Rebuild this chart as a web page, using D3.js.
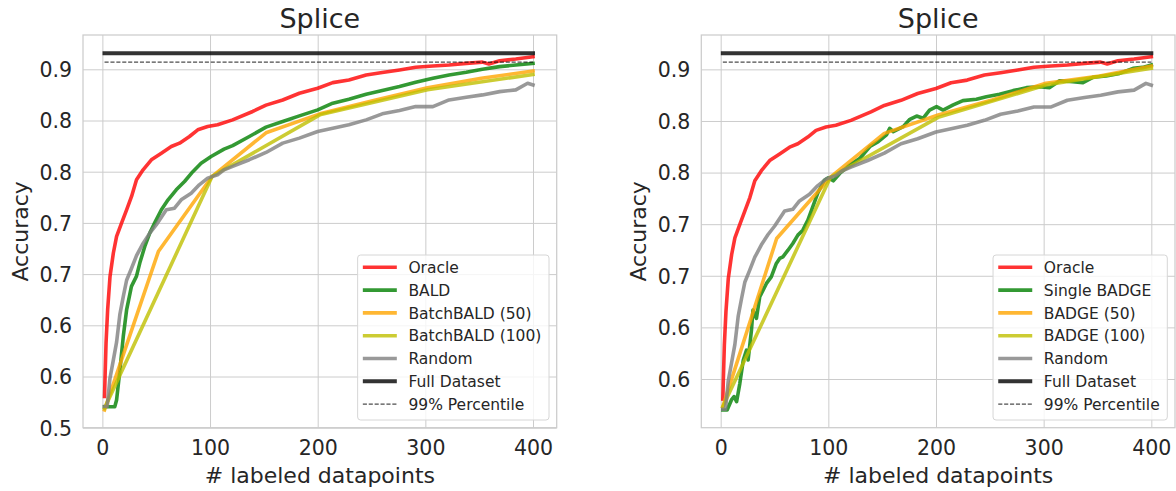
<!DOCTYPE html>
<html><head><meta charset="utf-8">
<script src="https://cdn.jsdelivr.net/npm/d3@7"></script>
<style>
body{margin:0;background:#fff;}
svg{display:block;font-family:"DejaVu Sans",sans-serif;}
</style></head><body>
<svg id="chart" width="1176" height="491"></svg>
<script>
// ---------- tick values & labels ----------
const xTicks = [0, 100, 200, 300, 400];
const yTicks = [0.5, 0.55, 0.6, 0.65, 0.7, 0.75, 0.8, 0.85];
const yTickLabels = ["0.5", "0.6", "0.6", "0.7", "0.7", "0.8", "0.8", "0.9"];
const panelTitles = ["Splice", "Splice"];
const xLabel = "# labeled datapoints";
const yLabel = "Accuracy";

// ---------- shared series ----------
const fullDataset = 0.8656;
const percentile99 = 0.857;
const refX = [2, 400];

const oracleX = [2, 2.5, 3.4, 4.9, 7.1, 10.2, 13.2, 17.8, 22.5, 27.1, 31.7, 37.8, 45.5, 54.8, 64, 71.7, 80.9, 88.6, 97.8, 107, 121, 139.6, 152, 167.5, 183, 200, 214, 229, 245, 260, 276, 291, 307, 322, 338, 353, 359, 369, 384, 400];
const oracleY = [0.5305, 0.55, 0.5826, 0.6152, 0.6477, 0.6706, 0.6868, 0.6999, 0.7128, 0.7258, 0.7421, 0.7518, 0.7616, 0.7681, 0.7746, 0.7779, 0.7844, 0.7909, 0.7941, 0.7958, 0.8006, 0.8088, 0.815, 0.820, 0.8266, 0.8315, 0.837, 0.8396, 0.8445, 0.8468, 0.8494, 0.852, 0.8532, 0.8542, 0.8558, 0.857, 0.8552, 0.8584, 0.860, 0.8623];

const randomX = [2, 4.5, 7, 10, 13.2, 16.3, 19.4, 22.5, 27, 31.7, 37.8, 44, 50, 59.4, 67, 73.2, 82.5, 90, 97.8, 107, 113, 121, 136.5, 152, 167.5, 183, 200, 214, 229, 245, 260, 276, 291, 307, 322, 338, 353, 369, 384, 395, 400];
const randomY = [0.5207, 0.5207, 0.548, 0.565, 0.5835, 0.611, 0.628, 0.644, 0.6555, 0.668, 0.680, 0.690, 0.698, 0.7128, 0.7144, 0.7225, 0.729, 0.7372, 0.7437, 0.747, 0.7518, 0.7552, 0.7617, 0.7688, 0.7779, 0.7828, 0.7893, 0.7925, 0.7958, 0.8006, 0.8065, 0.8097, 0.8136, 0.8136, 0.8201, 0.8227, 0.825, 0.8282, 0.8299, 0.8364, 0.8347];

// ---------- left panel series ----------
const baldX = [2, 11.5, 13.2, 16.3, 19.4, 22.5, 27, 31.7, 34.8, 39.4, 44, 48.6, 54.8, 61, 68.6, 76.3, 84, 91.7, 101, 113, 121, 136.5, 152, 167.5, 183, 200, 214, 229, 245, 260, 276, 291, 307, 322, 338, 353, 369, 384, 400];
const baldY = [0.5205, 0.5205, 0.527, 0.5565, 0.589, 0.615, 0.638, 0.648, 0.661, 0.677, 0.690, 0.700, 0.7128, 0.7225, 0.7323, 0.7404, 0.750, 0.7583, 0.7648, 0.772, 0.7755, 0.7844, 0.7935, 0.799, 0.8045, 0.8104, 0.8169, 0.8208, 0.8256, 0.8292, 0.8331, 0.8373, 0.8412, 0.8445, 0.8471, 0.85, 0.8526, 0.8542, 0.8558];

const batchBald50X = [2, 52, 102, 152, 202, 252, 302, 352, 400];
const batchBald50Y = [0.5174, 0.672, 0.7455, 0.788, 0.8065, 0.8195, 0.832, 0.8412, 0.8484];

const batchBald100X = [2, 102, 202, 302, 400];
const batchBald100Y = [0.519, 0.7455, 0.8055, 0.830, 0.845];

// ---------- right panel series ----------
const singleBadgeX = [2, 6, 10, 12.4, 14.8, 17.8, 21, 24, 25.5, 28.6, 30, 33.2, 36.3, 39.4, 42.5, 47, 51.7, 54.8, 57.8, 62.5, 67, 71.7, 76.3, 81, 85.5, 90, 96.3, 100, 104.6, 110.8, 120, 129.4, 138.6, 146.4, 154, 157, 160.3, 169.5, 175.7, 182, 188, 194, 200.5, 206.6, 216, 225, 237.5, 246.8, 259, 271.6, 284, 296, 305.6, 314.8, 327, 336.5, 345.7, 358, 370.5, 383, 392, 400];
const singleBadgeY = [0.52, 0.52, 0.5297, 0.533, 0.528, 0.5458, 0.5684, 0.578, 0.5684, 0.5974, 0.6168, 0.6087, 0.6297, 0.636, 0.6426, 0.649, 0.662, 0.6668, 0.6684, 0.6748, 0.6813, 0.6894, 0.6942, 0.7039, 0.7168, 0.7297, 0.7426, 0.745, 0.742, 0.7494, 0.7574, 0.7639, 0.7752, 0.78, 0.7865, 0.7929, 0.7897, 0.7945, 0.8016, 0.8048, 0.8026, 0.8106, 0.8139, 0.8106, 0.8155, 0.8197, 0.821, 0.8235, 0.8258, 0.8294, 0.8323, 0.8332, 0.8323, 0.839, 0.8381, 0.8371, 0.8423, 0.8435, 0.8461, 0.851, 0.8519, 0.8542];

const badge50X = [2, 52, 102, 152, 202, 252, 302, 352, 400];
const badge50Y = [0.5232, 0.6861, 0.7455, 0.788, 0.8058, 0.8203, 0.8365, 0.8435, 0.8532];

const badge100X = [2, 102, 202, 302, 400];
const badge100Y = [0.5232, 0.7455, 0.8035, 0.8348, 0.851];

const leftLabels = ["Oracle", "BALD", "BatchBALD (50)", "BatchBALD (100)", "Random", "Full Dataset", "99% Percentile"];
const rightLabels = ["Oracle", "Single BADGE", "BADGE (50)", "BADGE (100)", "Random", "Full Dataset", "99% Percentile"];
const seriesColors = ["#ff0000", "#008000", "#ffa500", "#bfbf00", "#808080", "#000000", "#000000"];

// ---------- layout ----------
const W = 1176, H = 491;
const axTop = 35, axBottom = 427.7;
const xDomain = [-18, 422];
const zip = (xs, ys) => xs.map((v, i) => [v, ys[i]]);
const svg = d3.select("#chart");
const ink = "#262626";

function drawPanel(p) {
  const x = d3.scaleLinear().domain(xDomain).range([p.left, p.right]);
  const y = d3.scaleLinear().domain(p.yDomain).range([axBottom, axTop]);
  const g = svg.append("g");
  const w = p.right - p.left, h = axBottom - axTop;

  // y axis with grid
  const yt = yTicks.filter(v => v >= p.yDomain[0] - 1e-9 && v <= p.yDomain[1]);
  const ya = g.append("g").attr("transform", `translate(${p.left},0)`)
    .call(d3.axisLeft(y).tickValues(yt).tickSize(-w).tickPadding(11)
      .tickFormat(d => yTickLabels[yTicks.indexOf(d)]));
  ya.select(".domain").remove();
  ya.selectAll("line").attr("stroke", "#cccccc").attr("stroke-width", 1);
  ya.selectAll("text").attr("font-size", 20.5).attr("font-family", "DejaVu Sans").attr("fill", ink).attr("dy", "0.36em");

  const xa = g.append("g").attr("transform", `translate(0,${axBottom})`)
    .call(d3.axisBottom(x).tickValues(xTicks).tickSize(-h).tickPadding(12.5));
  xa.select(".domain").remove();
  xa.selectAll("line").attr("stroke", "#cccccc").attr("stroke-width", 1);
  xa.selectAll("text").attr("font-size", 20.5).attr("font-family", "DejaVu Sans").attr("fill", ink);

  // spines
  g.append("rect").attr("x", p.left).attr("y", axTop).attr("width", w).attr("height", h)
    .attr("fill", "none").attr("stroke", "#cccccc").attr("stroke-width", 1.25);

  const line = d3.line().x(d => x(d[0])).y(d => y(d[1]));
  const series = p.series;
  series.forEach((s, i) => {
    g.append("path").datum(s).attr("d", line)
      .attr("fill", "none").attr("stroke", seriesColors[i]).attr("stroke-opacity", 0.8)
      .attr("stroke-width", 3.6).attr("stroke-linejoin", "round").attr("stroke-linecap", "square");
  });
  // full dataset
  g.append("path").datum(zip(refX, [fullDataset, fullDataset])).attr("d", line)
    .attr("fill", "none").attr("stroke", "#000").attr("stroke-opacity", 0.8)
    .attr("stroke-width", 4).attr("stroke-linecap", "square");
  g.append("path").datum(zip(refX, [percentile99, percentile99])).attr("d", line)
    .attr("fill", "none").attr("stroke", "#000").attr("stroke-opacity", 0.7)
    .attr("stroke-width", 1.1).attr("stroke-dasharray", "4.1,1.8");

  // title and labels
  const cx = (p.left + p.right) / 2;
  g.append("text").attr("x", cx).attr("y", 27.5).attr("text-anchor", "middle")
    .attr("font-size", 27).attr("fill", ink).text(p.title);
  g.append("text").attr("x", cx).attr("y", 482.5).attr("text-anchor", "middle")
    .attr("font-size", 22).attr("fill", ink).text(xLabel);
  g.append("text").attr("transform", `translate(${p.left - 55.5},${(axTop + axBottom) / 2}) rotate(-90)`)
    .attr("text-anchor", "middle").attr("font-size", 22).attr("fill", ink).text(yLabel);

  // legend
  const lg = g.append("g");
  const rowH = 22.8, fs = 15.5;
  const texts = p.labels.map((t, i) => lg.append("text").attr("font-size", fs).attr("fill", ink).text(t));
  const maxW = d3.max(texts, t => t.node().getComputedTextLength());
  const boxW = maxW + 5.2 + 45.6 + 7.6, boxH = 165;
  const bx = p.right - 7.7 - boxW, by = axBottom - 7.7 - boxH;
  lg.insert("rect", "text").attr("x", bx).attr("y", by).attr("width", boxW).attr("height", boxH)
    .attr("rx", 3).attr("fill", "#fff").attr("fill-opacity", 0.8).attr("stroke", "#d6d6d6").attr("stroke-width", 1);
  p.labels.forEach((t, i) => {
    const cy = by + 12.3 + i * rowH;
    const hx = bx + 5.2;
    const hl = lg.append("line").attr("x1", hx).attr("x2", hx + 34).attr("y1", cy).attr("y2", cy)
      .attr("stroke", seriesColors[i]);
    if (i < 6) hl.attr("stroke-width", i === 5 ? 4 : 3.6).attr("stroke-opacity", 0.8);
    else hl.attr("stroke-width", 1.1).attr("stroke-opacity", 0.7).attr("stroke-dasharray", "4.1,1.8");
    texts[i].attr("x", hx + 45.6).attr("y", cy + 5.6);
  });
}

drawPanel({
  left: 83, right: 556.7, yDomain: [0.5, 0.8835], title: panelTitles[0], labels: leftLabels,
  series: [zip(oracleX, oracleY), zip(baldX, baldY), zip(batchBald50X, batchBald50Y),
           zip(batchBald100X, batchBald100Y), zip(randomX, randomY)]
});
drawPanel({
  left: 701.3, right: 1175, yDomain: [0.5028, 0.8833], title: panelTitles[1], labels: rightLabels,
  series: [zip(oracleX, oracleY), zip(singleBadgeX, singleBadgeY), zip(badge50X, badge50Y),
           zip(badge100X, badge100Y), zip(randomX, randomY)]
});
</script>
</body></html>
